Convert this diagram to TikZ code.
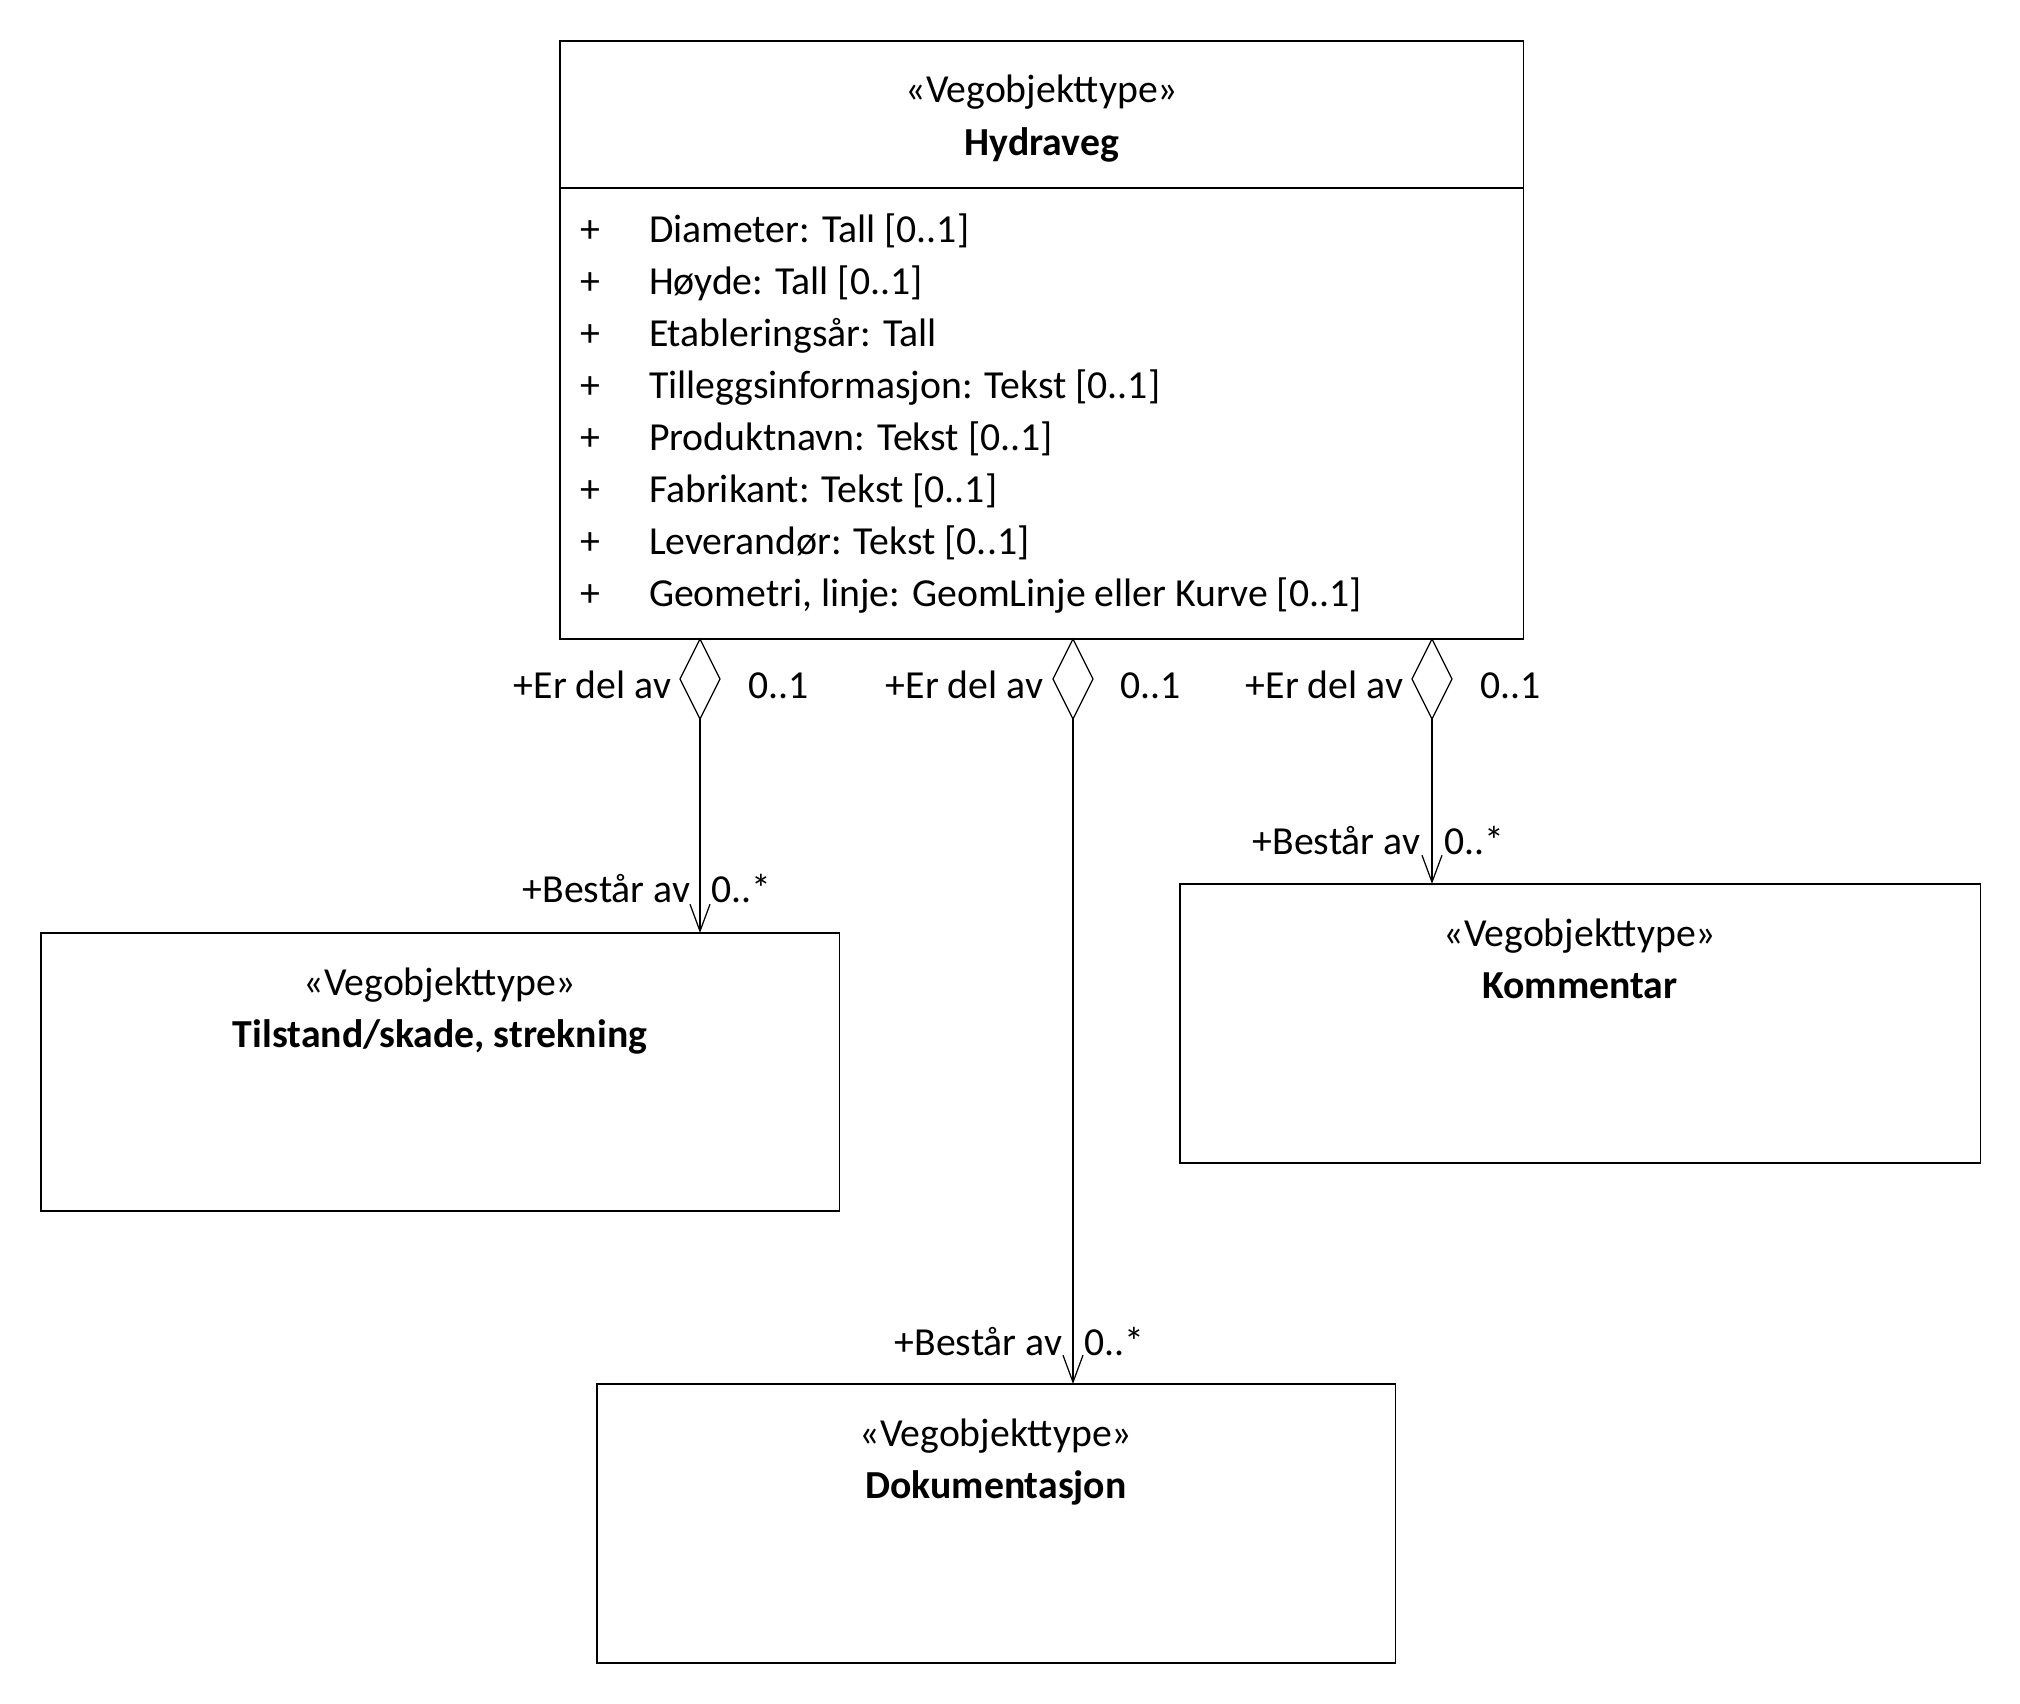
\documentclass[tikz,border=0pt]{standalone}
\usepackage{fontspec}
\setmainfont{Carlito}
\usetikzlibrary{arrows.meta,shapes.geometric}
\begin{document}
\begin{tikzpicture}[x=0.01cm,y=-0.01cm,
  every node/.style={font=\fontsize{11.3}{13.5}\selectfont, inner sep=0pt, outer sep=0pt},
  umlbox/.style={draw, line width=0.5pt, anchor=north west, rectangle},
  diam/.style={draw, line width=0.35pt, diamond, minimum width=0.4cm, minimum height=0.8cm, inner sep=0pt, anchor=north},
  assoc/.style={line width=0.35pt, -{Straight Barb[length=0.27cm,width=0.2cm,line width=0.35pt]}},
  lbl/.style={anchor=base east},
  rbl/.style={anchor=base west},
  ttl/.style={anchor=base},
  nm/.style={anchor=base, font=\fontsize{11.3}{13.5}\selectfont\bfseries}
]
\useasboundingbox (0,0) rectangle (2020,1704);

% Main class
\node[umlbox, minimum width=9.63cm, minimum height=5.98cm] (hyd) at (560,41) {};
\draw[line width=0.5pt] (hyd.west |- {(0,188)}) -- (hyd.east |- {(0,188)});
\node[ttl] (hydst) at (1042,103) {«Vegobjekttype»};
\node[nm] (hydnm) at (1042,156) {Hydraveg};

\foreach \t [count=\i from 0] in {Diameter: Tall [0..1],
  Høyde: Tall [0..1],
  Etableringsår: Tall,
  Tilleggsinformasjon: Tekst [0..1],
  Produktnavn: Tekst [0..1],
  Fabrikant: Tekst [0..1],
  Leverandør: Tekst [0..1],
  {Geometri, linje: GeomLinje eller Kurve [0..1]}}{
  \node[ttl] (p\i) at (590,{243+52*\i}) {+};
  \node[rbl] (a\i) at (649,{243+52*\i}) {\t};
}

% Target classes
\node[umlbox, minimum width=7.98cm, minimum height=2.78cm] (til) at (41,933) {};
\node[ttl] (tilst) at (440,996) {«Vegobjekttype»};
\node[nm] (tilnm) at (440,1048) {Tilstand/skade, strekning};

\node[umlbox, minimum width=8.00cm, minimum height=2.79cm] (kom) at (1180,884) {};
\node[ttl] (komst) at (1580,947) {«Vegobjekttype»};
\node[nm] (komnm) at (1580,999) {Kommentar};

\node[umlbox, minimum width=7.98cm, minimum height=2.79cm] (dok) at (597,1384) {};
\node[ttl] (dokst) at (996,1447) {«Vegobjekttype»};
\node[nm] (doknm) at (996,1499) {Dokumentasjon};

% Aggregation diamonds
\node[diam] (d1) at (700,639) {};
\node[diam] (d2) at (1073,639) {};
\node[diam] (d3) at (1432,639) {};

% Connectors
\draw[assoc] (d1.south) -- (d1.south |- til.north);
\draw[assoc] (d2.south) -- (d2.south |- dok.north);
\draw[assoc] (d3.south) -- (d3.south |- kom.north);

% Labels at aggregate end
\node[lbl] (e1) at (671,699) {+Er del av};
\node[rbl] (m1) at (748,699) {0..1};
\node[lbl] (e2) at (1043,699) {+Er del av};
\node[rbl] (m2) at (1120,699) {0..1};
\node[lbl] (e3) at (1403,699) {+Er del av};
\node[rbl] (m3) at (1480,699) {0..1};

% Labels at part end
\node[lbl] (b1) at (690,903) {+Består av};
\node[rbl] (n1) at (711,903) {0..*};
\node[lbl] (b2) at (1062,1356) {+Består av};
\node[rbl] (n2) at (1084,1356) {0..*};
\node[lbl] (b3) at (1420,855) {+Består av};
\node[rbl] (n3) at (1444,855) {0..*};
\end{tikzpicture}
\end{document}
